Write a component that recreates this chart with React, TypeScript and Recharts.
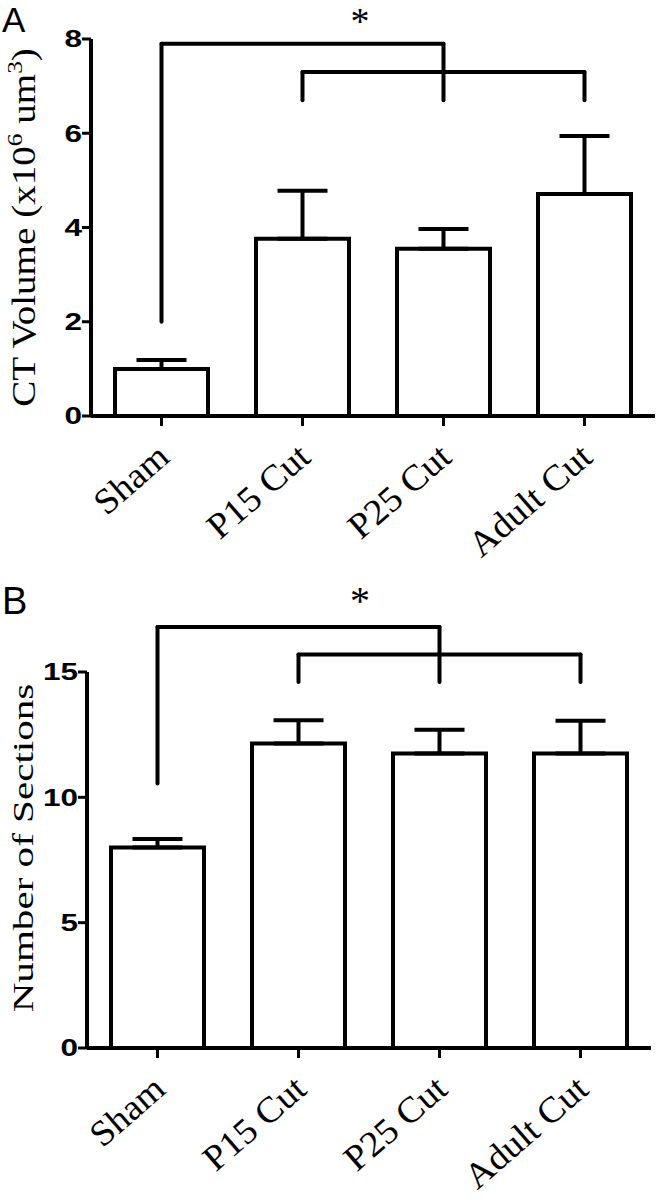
import React from 'react';
import { ComposedChart, Bar, XAxis, YAxis, ErrorBar, ReferenceLine } from 'recharts';

const categories = ['Sham', 'P15 Cut', 'P25 Cut', 'Adult Cut'];

const ctVolume = [1.0, 3.76, 3.55, 4.71];
const ctVolumeErr = [0.19, 1.02, 0.42, 1.23];
const ctTicks = [0, 2, 4, 6, 8];
// bracket levels: [outer top, sham leg end, inner top, inner legs end]
const ctBracket = [7.9, 2.0, 7.3, 6.7];

const sections = [8.0, 12.15, 11.75, 11.75];
const sectionsErr = [0.34, 0.93, 0.95, 1.31];
const secTicks = [0, 5, 10, 15];
const secBracket = [16.8, 10.55, 15.7, 14.6];

const ctData = categories.map((c, i) => ({ name: c, v: ctVolume[i], e: [0, ctVolumeErr[i]] }));
const secData = categories.map((c, i) => ({ name: c, v: sections[i], e: [0, sectionsErr[i]] }));

const SANS = '"Liberation Sans", Arial, sans-serif';
const SERIF = '"Liberation Serif", "Times New Roman", serif';

const YTick = (props: any) => {
  const { x, y, payload } = props;
  return (
    <text
      transform={`translate(${x + 2},${y}) scale(1.37,1)`}
      textAnchor="end"
      dy="0.36em"
      fontFamily={SANS}
      fontWeight="bold"
      fontSize={23}
      fill="#000"
    >
      {payload.value}
    </text>
  );
};

const XTick = (props: any) => {
  const { x, y, payload } = props;
  return (
    <text
      transform={`translate(${x + 10},${y + 32}) rotate(-41) scale(1.05,1)`}
      textAnchor="end"
      fontFamily={SERIF}
      fontSize={36}
      fill="#000"
    >
      {payload.value}
    </text>
  );
};

const LabelA = (props: any) => {
  const vb = props.viewBox || { x: 0, y: 0, width: 0, height: 0 };
  const cy = vb.y + vb.height / 2;
  return (
    <text
      transform={`translate(35,${cy}) rotate(-90) scale(1.15,1)`}
      textAnchor="middle"
      fontFamily={SERIF}
      fontSize={34}
      fill="#000"
    >
      CT Volume (x10<tspan fontSize={22} dy={-13}>6</tspan>
      <tspan dy={13}> um</tspan>
      <tspan fontSize={22} dy={-13}>3</tspan>
      <tspan dy={13}>)</tspan>
    </text>
  );
};

const LabelB = (props: any) => {
  const vb = props.viewBox || { x: 0, y: 0, width: 0, height: 0 };
  const cy = vb.y + vb.height / 2 - 12;
  return (
    <text
      transform={`translate(33,${cy}) rotate(-90) scale(1.37,1)`}
      textAnchor="middle"
      fontFamily={SERIF}
      fontSize={30}
      fill="#000"
    >
      Number of Sections
    </text>
  );
};

const lineProps = {
  stroke: '#000',
  strokeWidth: 4,
  strokeLinecap: 'round' as const,
  ifOverflow: 'visible' as const,
  position: 'middle' as const,
};

const Brackets = (b: number[]) => [
  <ReferenceLine key="b1" {...lineProps} segment={[{ x: categories[0], y: b[1] }, { x: categories[0], y: b[0] }]} />,
  <ReferenceLine key="b2" {...lineProps} segment={[{ x: categories[0], y: b[0] }, { x: categories[2], y: b[0] }]} />,
  <ReferenceLine key="b3" {...lineProps} segment={[{ x: categories[2], y: b[0] }, { x: categories[2], y: b[3] }]} />,
  <ReferenceLine key="b4" {...lineProps} segment={[{ x: categories[1], y: b[2] }, { x: categories[3], y: b[2] }]} />,
  <ReferenceLine key="b5" {...lineProps} segment={[{ x: categories[1], y: b[2] }, { x: categories[1], y: b[3] }]} />,
  <ReferenceLine key="b6" {...lineProps} segment={[{ x: categories[3], y: b[2] }, { x: categories[3], y: b[3] }]} />,
];

const axisLine = { stroke: '#000', strokeWidth: 4 };
const tickLine = { stroke: '#000', strokeWidth: 3 };

export default function App() {
  return (
    <div style={{ position: 'absolute', left: 0, top: 0, width: 659, height: 1199, background: '#fff' }}>
      <div style={{ position: 'absolute', left: 0, top: 0 }}>
        <ComposedChart width={659} height={600} data={ctData} margin={{ top: 39, right: 4, bottom: 0, left: 0 }}>
          <XAxis
            dataKey="name"
            height={184}
            axisLine={axisLine}
            tickLine={tickLine}
            tickSize={10}
            tick={<XTick />}
            interval={0}
          />
          <YAxis
            width={91}
            domain={[0, 8]}
            ticks={ctTicks}
            axisLine={axisLine}
            tickLine={tickLine}
            tickSize={9}
            tick={<YTick />}
            label={<LabelA />}
          />
          <Bar dataKey="v" fill="#fff" stroke="#000" strokeWidth={4} barSize={93} isAnimationActive={false}>
            <ErrorBar dataKey="e" width={25} stroke="#000" strokeWidth={4} direction="y" isAnimationActive={false} />
          </Bar>
          {Brackets(ctBracket)}
        </ComposedChart>
      </div>
      <div style={{ position: 'absolute', left: 0, top: 600 }}>
        <ComposedChart width={659} height={599} data={secData} margin={{ top: 72, right: 8, bottom: 0, left: 0 }}>
          <XAxis
            dataKey="name"
            height={151}
            axisLine={axisLine}
            tickLine={tickLine}
            tickSize={10}
            tick={<XTick />}
            interval={0}
          />
          <YAxis
            width={87}
            domain={[0, 15]}
            ticks={secTicks}
            axisLine={axisLine}
            tickLine={tickLine}
            tickSize={9}
            tick={<YTick />}
            label={<LabelB />}
          />
          <Bar dataKey="v" fill="#fff" stroke="#000" strokeWidth={4} barSize={93} isAnimationActive={false}>
            <ErrorBar dataKey="e" width={25} stroke="#000" strokeWidth={4} direction="y" isAnimationActive={false} />
          </Bar>
          {Brackets(secBracket)}
        </ComposedChart>
      </div>
      <svg width={659} height={1199} style={{ position: 'absolute', left: 0, top: 0, pointerEvents: 'none' }}>
        <text x={2} y={32} fontFamily={SANS} fontSize={35} fill="#000">A</text>
        <text x={360} y={34} textAnchor="middle" fontFamily={SERIF} fontSize={38} fill="#000">*</text>
        <text x={2} y={614} fontFamily={SANS} fontSize={38} fill="#000">B</text>
        <text x={360} y={614} textAnchor="middle" fontFamily={SERIF} fontSize={40} fill="#000">*</text>
      </svg>
    </div>
  );
}
